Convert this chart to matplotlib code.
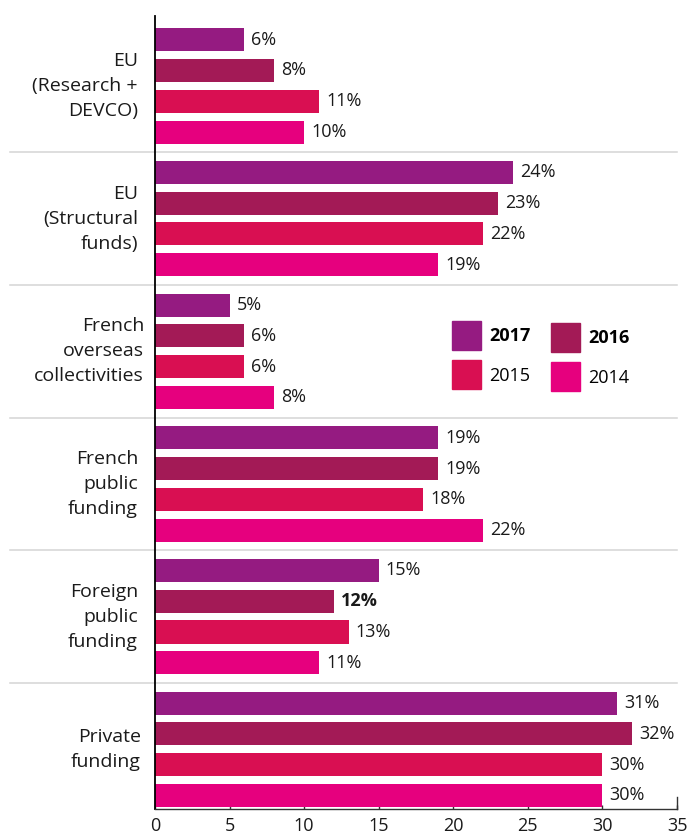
import matplotlib
matplotlib.use("Agg")
import matplotlib.pyplot as plt
from matplotlib.patches import Rectangle
import matplotlib.transforms as mtransforms

plt.rcParams['font.family'] = ['Open Sans', 'DejaVu Sans']

# Funding sources and their shares (%) per year
categories = [
    "EU\n(Research +\nDEVCO)",
    "EU\n(Structural\nfunds)",
    "French\noverseas\ncollectivities",
    "French\npublic\nfunding",
    "Foreign\npublic\nfunding",
    "Private\nfunding",
]
years = ["2017", "2016", "2015", "2014"]
values_2017 = [6, 24, 5, 19, 15, 31]
values_2016 = [8, 23, 6, 19, 12, 32]
values_2015 = [11, 22, 6, 18, 13, 30]
values_2014 = [10, 19, 8, 22, 11, 30]
x_ticks = [0, 5, 10, 15, 20, 25, 30, 35]

series = [values_2017, values_2016, values_2015, values_2014]
colors = ["#951B81", "#A31A56", "#D90F52", "#E6007E"]
bold_years = {"2017", "2016"}
text_color = "#1a1a1a"

W, H = 687, 839
fig = plt.figure(figsize=(W / 100, H / 100), dpi=100)
ax_left, ax_right, ax_top, ax_bottom = 155, 677, 16, 809
ax = fig.add_axes([ax_left / W, 1 - ax_bottom / H,
                   (ax_right - ax_left) / W, (ax_bottom - ax_top) / H])

group_pitch = 4.31
bar_height = 0.75
n_groups = len(categories)

for k, (vals, col) in enumerate(zip(series, colors)):
    ys = [g * group_pitch + k for g in range(n_groups)]
    ax.barh(ys, vals, height=bar_height, color=col, zorder=2)
    for g, (y, v) in enumerate(zip(ys, vals)):
        weight = "bold" if (g == 4 and k == 1) else "normal"
        ax.annotate(f"{v}%", (v, y), xytext=(5, 0), textcoords="offset points",
                    ha="left", va="center", fontsize=13, color=text_color,
                    fontweight=weight)

ax.set_xlim(0, 35)
ax.set_ylim((n_groups - 1) * group_pitch + 3 + 0.44, -0.77)

# Category labels (right edge in pixels) and separators
label_right_px = [138, 138, 144, 138, 138, 141]
blend = mtransforms.blended_transform_factory(ax.transAxes, ax.transData)
sep_x0 = (10 - ax_left) / (ax_right - ax_left)
for g, name in enumerate(categories):
    yc = g * group_pitch + 1.5
    lx = (label_right_px[g] - ax_left) / (ax_right - ax_left)
    ax.text(lx, yc, name, transform=blend, ha="right", va="center",
            fontsize=14, color=text_color, linespacing=1.5, multialignment="right")
    if g < n_groups - 1:
        ys = g * group_pitch + 3 + (group_pitch - 3) / 2
        ax.plot([sep_x0, 1], [ys, ys], transform=blend, color="#d4d4d4",
                lw=1.1, clip_on=False, zorder=1)

for s in ["top", "right"]:
    ax.spines[s].set_visible(False)
ax.spines["left"].set_color("black")
ax.spines["left"].set_linewidth(1.3)
ax.spines["bottom"].set_color("#333333")
ax.spines["bottom"].set_linewidth(1.0)
ax.set_yticks([])
ax.set_xticks(x_ticks)
ax.set_xticklabels([str(t) for t in x_ticks])
ax.tick_params(axis="x", direction="in", length=3, width=1.0, color="#333333",
               labelsize=13, labelcolor=text_color, pad=6)
# taller end mark at the axis limit
bx = mtransforms.blended_transform_factory(ax.transData, ax.transAxes)
ax.plot([35, 35], [0, 12 / (ax_bottom - ax_top)], transform=bx,
        color="#333333", lw=1.0, clip_on=False)

# Legend built from coloured squares
legend_items = [
    ("2017", colors[0], 452, 321),
    ("2016", colors[1], 551, 323),
    ("2015", colors[2], 452, 360),
    ("2014", colors[3], 551, 362),
]
sq = 29
for label, col, px, py in legend_items:
    fig.add_artist(Rectangle((px / W, 1 - (py + sq) / H), sq / W, sq / H,
                             transform=fig.transFigure, color=col))
    fig.text((px + sq + 8) / W, 1 - (py + sq / 2 + 1) / H, label,
             ha="left", va="center", fontsize=13, color="black",
             fontweight="bold" if label in bold_years else "normal")

fig.savefig("out.png", dpi=100)
